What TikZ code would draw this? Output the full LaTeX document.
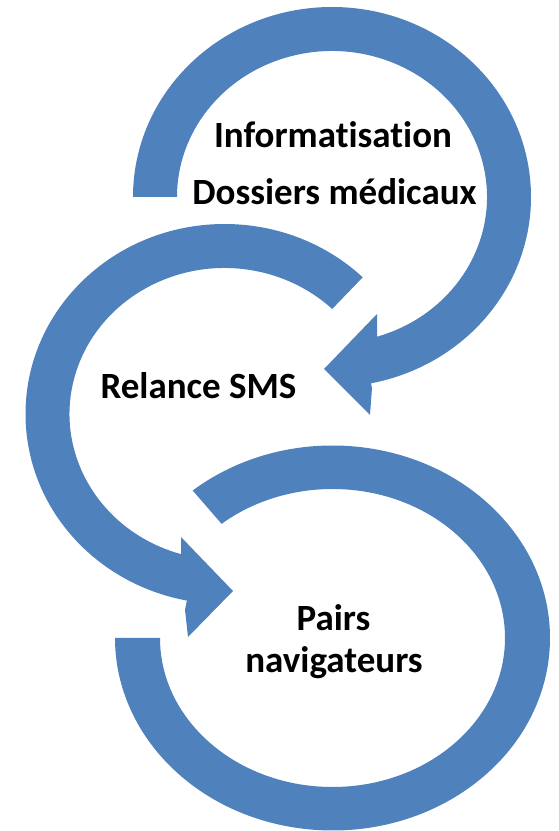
\documentclass[tikz,border=0pt]{standalone}
\usepackage{fontspec}
\setmainfont{Carlito}[Ligatures=NoCommon]
\definecolor{bandblue}{RGB}{79,129,189}
\tikzset{
    band/.style = {fill=bandblue, draw=none},
    steptext/.style = {font=\fontsize{37}{44}\selectfont\bfseries,
        text=black, inner sep=0pt, anchor=base}
}

\begin{document}
\begin{tikzpicture}[x=1pt,y=1pt]
    \useasboundingbox (0,0) rectangle (558,831);
    \coordinate (c1) at (332,634);
    \coordinate (c2) at (224.5,417);
    \coordinate (c3) at (332.5,193);
    \begin{scope}[shift={(c1)}]
        \fill[band] (180:199 and 190) arc[start angle=180, end angle=-78.7, x radius=199, y radius=190]
            -- (40,-191) -- (38,-218) -- (-8,-172) -- (45,-117) -- (45,-144)
            -- (-73.6:155 and 146) arc[start angle=-73.6, end angle=180, x radius=155, y radius=146] -- cycle;
    \end{scope}
    \begin{scope}[shift={(c2)}]
        \fill[band] (46:199 and 190) arc[start angle=46, end angle=259.1, x radius=199, y radius=190]
            -- (-39.5,-196) -- (-36.5,-223) -- (8.5,-177) -- (-43.5,-123) -- (-43.5,-148)
            -- (254.5:155 and 146) arc[start angle=254.5, end angle=46, x radius=155, y radius=146] -- cycle;
    \end{scope}
    \begin{scope}[shift={(c3)}]
        \fill[band] (130:217.5 and 192.5) arc[start angle=130, end angle=-180, x radius=217.5, y radius=192.5]
            -- (-180:172.5 and 149) arc[start angle=-180, end angle=130, x radius=172.5, y radius=149] -- cycle;
    \end{scope}
    \node[steptext] (info) at (333,683) {Informatisation};
    \node[steptext] (dossiers) at (334.5,626) {Dossiers médicaux};
    \node[steptext] (sms) at (198.5,432) {Relance SMS};
    \node[steptext] (pairs) at (333.5,200) {Pairs};
    \node[steptext] (navig) at (334,158) {navigateurs};
\end{tikzpicture}
\end{document}
